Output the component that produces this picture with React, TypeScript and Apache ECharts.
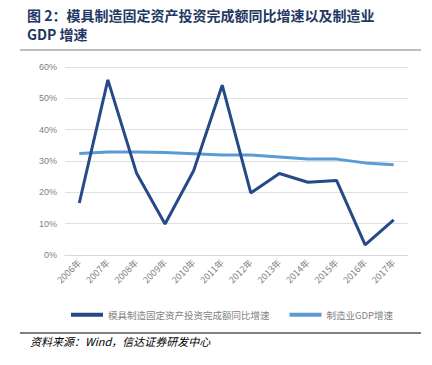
import React, { useEffect, useRef } from "react";
import * as echarts from "echarts";

const years = ["2006年", "2007年", "2008年", "2009年", "2010年", "2011年", "2012年", "2013年", "2014年", "2015年", "2016年", "2017年"];
const moldInvest = [16.6, 55.9, 26.2, 9.9, 26.9, 54.2, 19.8, 26.0, 23.2, 23.8, 3.2, 11.2];
const mfgGdp = [32.4, 32.9, 32.9, 32.7, 32.3, 31.9, 31.9, 31.3, 30.6, 30.6, 29.4, 28.8];
const yTicks = [0, 10, 20, 30, 40, 50, 60];

const FONT = "'Noto Sans CJK SC', 'Liberation Sans', sans-serif";

export default function App() {
  const ref = useRef<HTMLDivElement>(null);
  useEffect(() => {
    if (!ref.current) return;
    const chart = echarts.init(ref.current, undefined, { renderer: "svg" });
    chart.setOption({
      animation: false,
      backgroundColor: "#ffffff",
      textStyle: { fontFamily: FONT },
      grid: { left: 65, right: 24, top: 67, bottom: 110 },
      xAxis: {
        type: "category",
        data: years,
        boundaryGap: true,
        axisLine: { show: true, lineStyle: { color: "#d9d9d9", width: 1 } },
        axisTick: { show: false },
        axisLabel: { rotate: 45, color: "#7f7f7f", fontSize: 9, margin: 6, interval: 0, fontFamily: FONT },
      },
      yAxis: {
        type: "value",
        min: yTicks[0],
        max: yTicks[yTicks.length - 1],
        interval: 10,
        axisLine: { show: false },
        axisTick: { show: false },
        splitLine: { lineStyle: { color: "#e0e0e0", width: 1 } },
        axisLabel: { color: "#7f7f7f", fontSize: 9, margin: 8, formatter: (v: number) => v + "%", fontFamily: "'Liberation Sans', sans-serif" },
      },
      legend: {
        left: 66,
        top: 305,
        width: 366,
        itemWidth: 32,
        itemHeight: 4,
        itemGap: 20,
        icon: "rect",
        textStyle: { color: "#7f7f7f", fontSize: 9.5, fontFamily: FONT },
        data: ["模具制造固定资产投资完成额同比增速", "制造业GDP增速"],
      },
      series: [
        {
          name: "模具制造固定资产投资完成额同比增速",
          type: "line",
          data: moldInvest,
          symbol: "none",
          lineStyle: { color: "#264a87", width: 3 },
          itemStyle: { color: "#264a87" },
          z: 3,
        },
        {
          name: "制造业GDP增速",
          type: "line",
          data: mfgGdp,
          symbol: "none",
          lineStyle: { color: "#5b9bd5", width: 3 },
          itemStyle: { color: "#5b9bd5" },
          z: 2,
        },
      ],
      graphic: [
        {
          type: "text",
          left: 27,
          top: 8,
          style: { text: "图 2：模具制造固定资产投资完成额同比增速以及制造业", fill: "#1f3864", font: "bold 14px " + FONT },
        },
        {
          type: "text",
          left: 27,
          top: 27,
          style: { text: "GDP 增速", fill: "#1f3864", font: "bold 14px " + FONT },
        },
        {
          type: "line",
          shape: { x1: 20, y1: 50, x2: 421, y2: 50 },
          style: { stroke: "#7f7f7f", lineWidth: 1 },
        },
        {
          type: "line",
          shape: { x1: 20, y1: 333, x2: 421, y2: 333 },
          style: { stroke: "#000000", lineWidth: 1 },
        },
        {
          type: "text",
          left: 30,
          top: 335,
          style: { text: "资料来源：Wind，信达证券研发中心", fill: "#000000", font: "italic 11px " + FONT },
        },
      ],
    });
    return () => chart.dispose();
  }, []);
  return <div ref={ref} style={{ position: "absolute", left: 0, top: 0, width: 432, height: 365 }} />;
}
